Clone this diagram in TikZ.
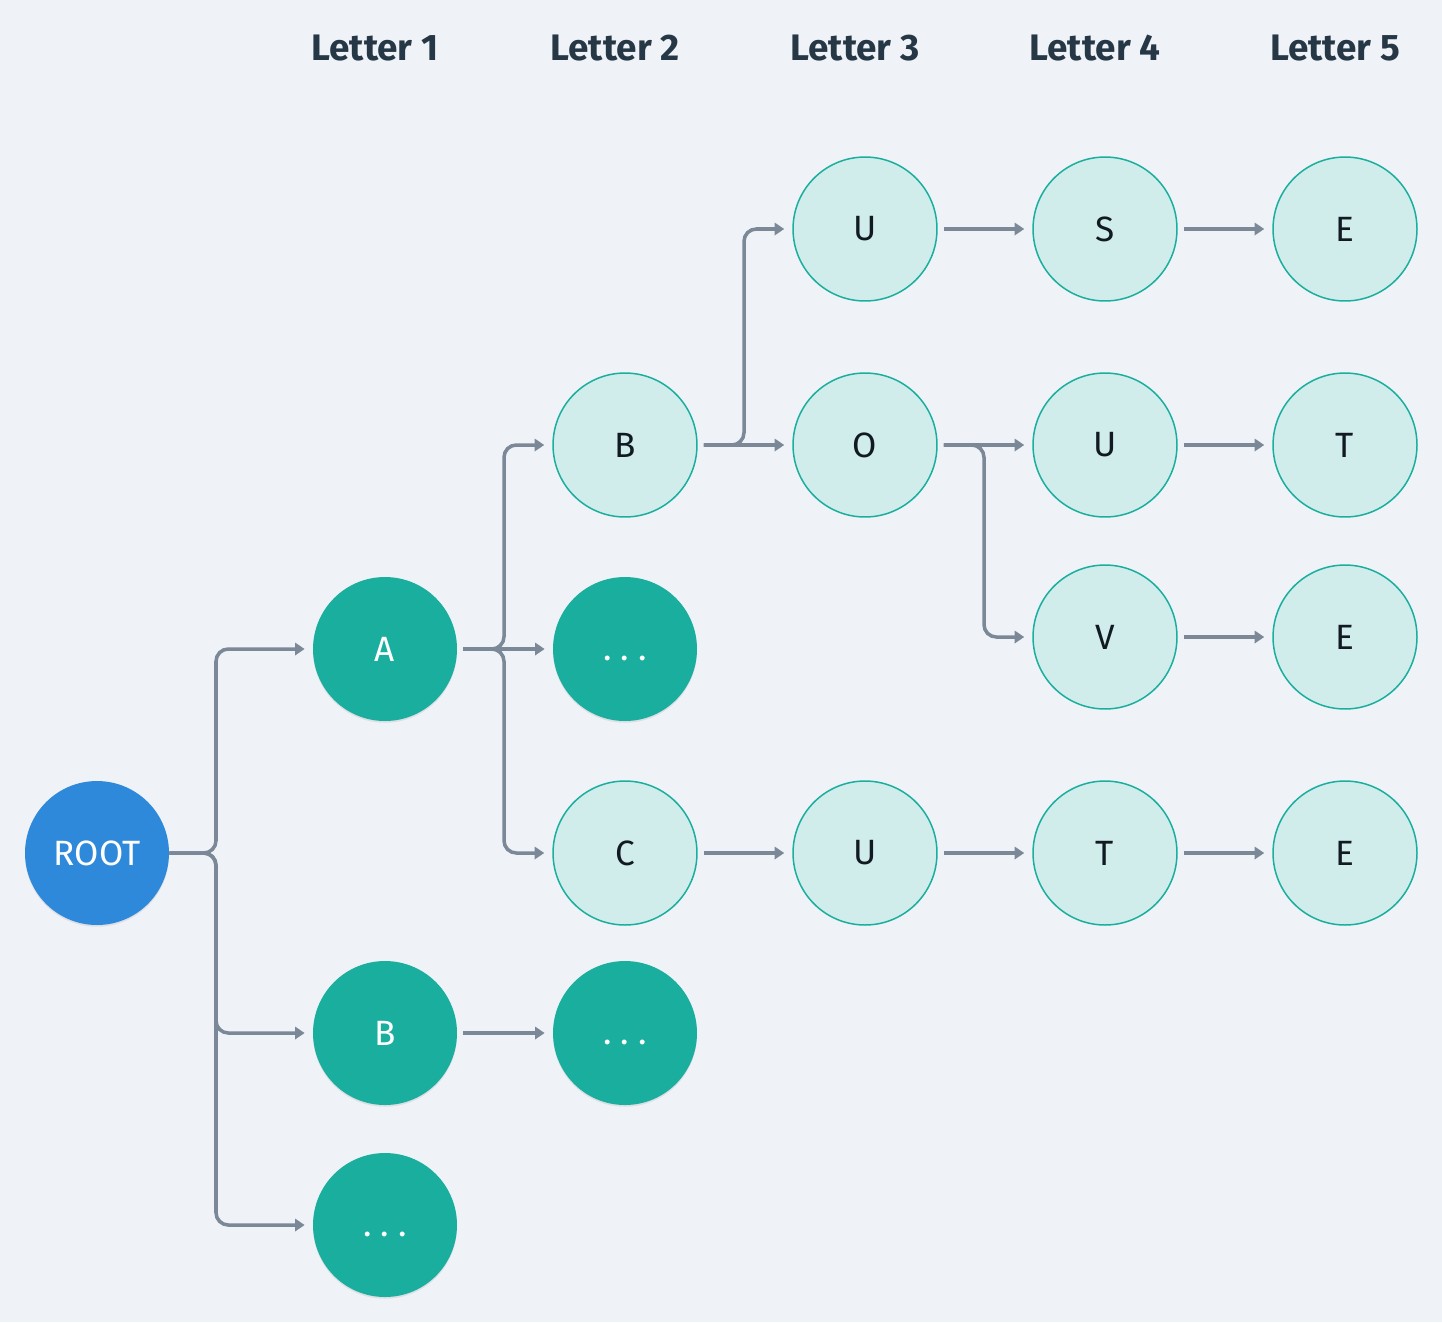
\documentclass[tikz,border=0pt]{standalone}
\usepackage{fontspec}
\setmainfont{Fira Sans}
\usetikzlibrary{arrows.meta,shadows}

\definecolor{pagebg}{HTML}{EFF3F7}
\definecolor{rootblue}{HTML}{2E89DB}
\definecolor{prefixteal}{HTML}{1AAE9F}
\definecolor{leaffill}{HTML}{D0EDEB}
\definecolor{linkgrey}{HTML}{7B8898}
\definecolor{headink}{HTML}{263746}
\definecolor{letterink}{HTML}{111A22}

\newcommand{\moredots}{\vphantom{T}.~.~.}

\begin{document}
\begin{tikzpicture}[x=0.02cm, y=-0.02cm,
		letter/.style = {circle, minimum size=2.88cm, inner sep=0pt, font=\fontsize{20}{24}\selectfont},
		rootnode/.style = {letter, fill=rootblue, text=white, drop shadow={shadow xshift=0pt, shadow yshift=-1pt, opacity=0.08, fill=black}},
		prefixnode/.style = {letter, fill=prefixteal, text=white, drop shadow={shadow xshift=0pt, shadow yshift=-1pt, opacity=0.08, fill=black}},
		leafnode/.style = {letter, fill=leaffill, draw=prefixteal, line width=0.85pt, text=letterink},
		link/.style = {draw=linkgrey, line width=2pt, rounded corners=7pt, -{Triangle[length=5.5pt, width=7pt]}, shorten <=0.12cm, shorten >=0.16cm},
		header/.style = {font=\bfseries\fontsize{21}{25}\selectfont, text=headink}]
	\fill[pagebg] (0, 0) rectangle (1442, 1322);
	\useasboundingbox (0, 0) rectangle (1442, 1322);

	% column titles
	\node[header] (h1) at (375, 48) {Letter 1};
	\node[header] (h2) at (615, 48) {Letter 2};
	\node[header] (h3) at (855, 48) {Letter 3};
	\node[header] (h4) at (1095, 48) {Letter 4};
	\node[header] (h5) at (1335, 48) {Letter 5};

	\node[rootnode] (root) at (97, 853) {ROOT};
		\node[prefixnode] (a) at (385, 649) {A};
		\node[prefixnode] (b) at (385, 1033) {B};
		\node[prefixnode] (more) at (385, 1225) {\moredots};
	\node[leafnode] (ab) at (625, 445) {B};
	\node[prefixnode] (amore) at (625, 649) {\moredots};
	\node[leafnode] (ac) at (625, 853) {C};
	\node[prefixnode] (bmore) at (625, 1033) {\moredots};
		\node[leafnode] (abu) at (865, 229) {U};
		\node[leafnode] (abo) at (865, 445) {O};
		\node[leafnode] (acu) at (865, 853) {U};
	\node[leafnode] (abus) at (1105, 229) {S};
	\node[leafnode] (abou) at (1105, 445) {U};
	\node[leafnode] (abov) at (1105, 637) {V};
	\node[leafnode] (acut) at (1105, 853) {T};
		\node[leafnode] (abuse) at (1345, 229) {E};
		\node[leafnode] (about) at (1345, 445) {T};
		\node[leafnode] (above) at (1345, 637) {E};
		\node[leafnode] (acute) at (1345, 853) {E};

	% forks
	\coordinate (rootfork) at (216, 853);
	\coordinate (afork) at (504, 649);
	\coordinate (abfork) at (744, 445);
	\coordinate (abofork) at (984, 445);

	\draw[link, shorten <=0pt] (root.east) -- (rootfork) |- (a);
	\draw[link, shorten <=0pt] (root.east) -- (rootfork) |- (b);
	\draw[link, shorten <=0pt] (root.east) -- (rootfork) |- (more);
	\draw[link] (a.east) -- (afork) |- (ab);
	\draw[link] (a) -- (amore);
	\draw[link] (a.east) -- (afork) |- (ac);
	\draw[link] (b) -- (bmore);
	\draw[link] (ab.east) -- (abfork) |- (abu);
	\draw[link] (ab) -- (abo);
	\draw[link] (ac) -- (acu);
	\draw[link] (abu) -- (abus);
	\draw[link] (abo) -- (abou);
	\draw[link] (abo.east) -- (abofork) |- (abov);
	\draw[link] (acu) -- (acut);
	\draw[link] (abus) -- (abuse);
	\draw[link] (abou) -- (about);
	\draw[link] (abov) -- (above);
	\draw[link] (acut) -- (acute);
\end{tikzpicture}
\end{document}
